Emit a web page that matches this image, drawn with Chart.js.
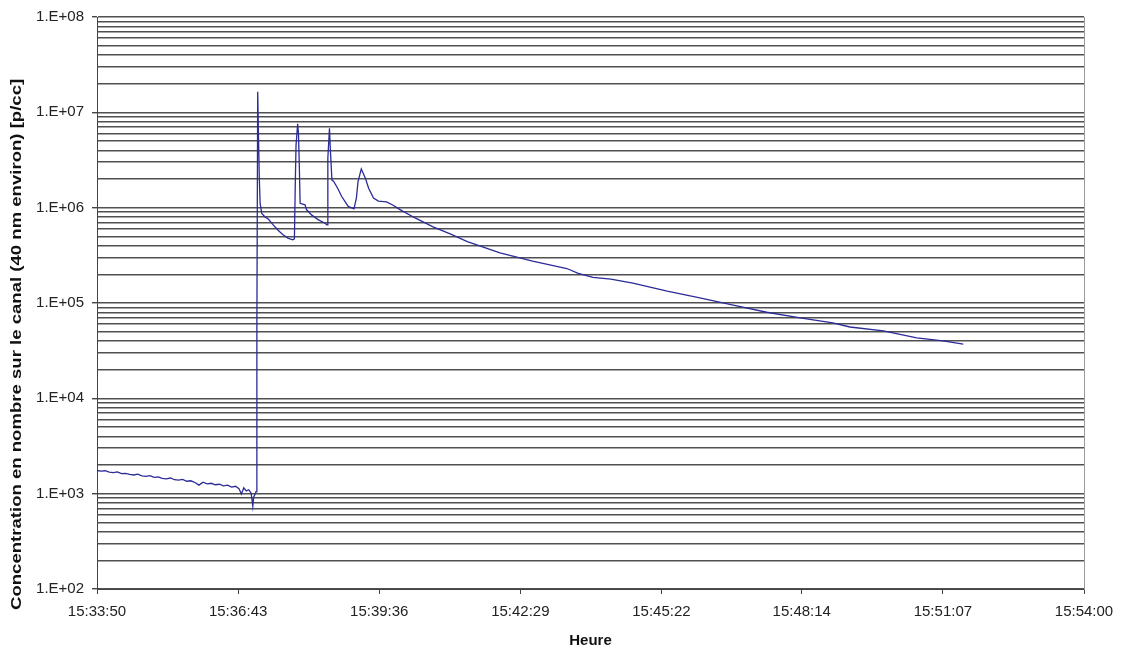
<!DOCTYPE html>
<html>
<head>
<meta charset="utf-8">
<script src="https://cdn.jsdelivr.net/npm/chart.js@4.4.1/dist/chart.umd.min.js"></script>
<style>
  html, body { margin: 0; padding: 0; background: #fff; }
  #wrap { width: 1123px; height: 648px; }
</style>
</head>
<body>
<div id="wrap"><canvas id="canvas" width="1123" height="648"></canvas></div>
<script>
// x axis tick labels (Excel date axis, 7 divisions)
const xTickLabels = ['15:33:50', '15:36:43', '15:39:36', '15:42:29', '15:45:22', '15:48:14', '15:51:07', '15:54:00'];

// measurement times and concentrations [p/cc]
const sampleTimes = [
  '15:33:50', '15:33:55', '15:34:00', '15:34:05', '15:34:10', '15:34:15', '15:34:20', '15:34:25',
  '15:34:30', '15:34:35', '15:34:40', '15:34:45', '15:34:50', '15:34:55', '15:35:00', '15:35:05',
  '15:35:10', '15:35:15', '15:35:20', '15:35:25', '15:35:30', '15:35:35', '15:35:40', '15:35:45',
  '15:35:50', '15:35:55', '15:36:00', '15:36:05', '15:36:10', '15:36:15', '15:36:20', '15:36:25',
  '15:36:30', '15:36:35', '15:36:40', '15:36:44', '15:36:47', '15:36:50', '15:36:53', '15:36:56',
  '15:36:59', '15:37:01', '15:37:02', '15:37:04', '15:37:05', '15:37:06', '15:37:07', '15:37:08',
  '15:37:09', '15:37:10', '15:37:12', '15:37:16', '15:37:20', '15:37:26', '15:37:32', '15:37:38',
  '15:37:44', '15:37:50', '15:37:52', '15:37:53', '15:37:54', '15:37:56', '15:37:57', '15:37:58',
  '15:37:59', '15:38:05', '15:38:07', '15:38:13', '15:38:21', '15:38:29', '15:38:32', '15:38:33',
  '15:38:35', '15:38:36', '15:38:38', '15:38:40', '15:38:45', '15:38:50', '15:38:58', '15:39:05',
  '15:39:08', '15:39:10', '15:39:14', '15:39:19', '15:39:23', '15:39:29', '15:39:35', '15:39:45',
  '15:39:53', '15:40:01', '15:40:20', '15:40:42', '15:41:03', '15:41:24', '15:42:04', '15:42:44',
  '15:43:26', '15:43:40', '15:43:58', '15:44:20', '15:44:47', '15:45:29', '15:46:09', '15:46:50',
  '15:47:31', '15:48:12', '15:48:52', '15:49:13', '15:49:54', '15:50:35', '15:51:07', '15:51:32'
];
const concentration = [
  1750, 1720, 1740, 1680, 1665, 1690, 1620, 1635,
  1590, 1570, 1600, 1540, 1520, 1545, 1480, 1500,
  1450, 1430, 1460, 1400, 1385, 1410, 1350, 1365,
  1310, 1230, 1320, 1270, 1285, 1240, 1255, 1210,
  1230, 1170, 1195, 1130, 990, 1150, 1070, 1100,
  1010, 740, 920, 1000, 1050, 55000, 16400000, 5500000,
  2000000, 1100000, 870000, 800000, 760000, 660000, 580000, 520000,
  480000, 460000, 470000, 1600000, 4500000, 7600000, 6000000, 2800000,
  1110000, 1070000, 950000, 840000, 750000, 690000, 660000, 3300000,
  6800000, 4200000, 1950000, 1900000, 1600000, 1310000, 1030000, 970000,
  1260000, 1880000, 2550000, 2040000, 1600000, 1260000, 1170000, 1150000,
  1060000, 960000, 780000, 630000, 530000, 440000, 335000, 275000,
  230000, 205000, 186000, 178000, 162000, 133000, 113000, 95000,
  80000, 70000, 62000, 56000, 51000, 43000, 40000, 37000
];

const yTitle = 'Concentration en nombre sur le canal (40 nm environ) [p/cc]';
const xTitle = 'Heure';

function toSec(s) {
  const p = s.split(':').map(Number);
  return p[0] * 3600 + p[1] * 60 + p[2];
}

const points = sampleTimes.map((t, i) => ({ x: toSec(t), y: concentration[i] }));
const xTickValues = xTickLabels.map(toSec);

const yTickValues = [];
for (let e = 2; e < 8; e++) {
  for (let m = 1; m <= 9; m++) yTickValues.push(m * Math.pow(10, e));
}
yTickValues.push(1e8);

function isDecade(v) {
  const l = Math.log10(v);
  return Math.abs(l - Math.round(l)) < 1e-9;
}

const FONT = '"Liberation Sans", Arial, sans-serif';

// y title drawn by hand: it is stretched and starts below the plot like in Excel
const yTitlePlugin = {
  id: 'yTitle',
  afterDraw(chart) {
    const ctx = chart.ctx;
    ctx.save();
    ctx.font = 'bold 14px ' + FONT;
    const w = ctx.measureText('Concentration en nombre sur le canal (40 nm environ) [p/cc').width;
    ctx.translate(17, 610);
    ctx.rotate(-Math.PI / 2);
    ctx.scale(525 / w, 1);
    ctx.fillStyle = '#111';
    ctx.textBaseline = 'middle';
    ctx.textAlign = 'left';
    ctx.fillText(yTitle, 0, 0);
    ctx.restore();
  }
};

const config = {
  type: 'line',
  data: {
    datasets: [{
      data: points,
      borderColor: '#2b2b99',
      borderWidth: 1.3,
      pointRadius: 0,
      tension: 0,
      fill: false
    }]
  },
  options: {
    responsive: false,
    animation: false,
    layout: { padding: { left: 0, right: 0, top: 15, bottom: 0 } },
    plugins: { legend: { display: false }, tooltip: { enabled: false } },
    scales: {
      x: {
        type: 'linear',
        min: xTickValues[0],
        max: xTickValues[xTickValues.length - 1],
        afterBuildTicks: (scale) => { scale.ticks = xTickValues.map(v => ({ value: v })); },
        afterFit: (scale) => { scale.height = 59; },
        ticks: {
          autoSkip: false,
          maxRotation: 0,
          padding: 9,
          color: '#222',
          font: { family: FONT, size: 15 },
          callback: (v, i) => xTickLabels[i]
        },
        grid: { drawOnChartArea: false, tickLength: 5, color: '#444' },
        border: { color: '#444', width: 1 },
        title: {
          display: true,
          text: xTitle,
          color: '#111',
          font: { family: FONT, size: 15, weight: 'bold', lineHeight: 1 },
          padding: 0
        }
      },
      y: {
        type: 'logarithmic',
        position: 'left',
        min: 100,
        max: 1e8,
        afterBuildTicks: (scale) => { scale.ticks = yTickValues.map(v => ({ value: v, major: isDecade(v) })); },
        afterFit: (scale) => { scale.width = 97; },
        ticks: {
          autoSkip: false,
          padding: 8,
          color: '#222',
          font: { family: FONT, size: 15 },
          callback: (v) => isDecade(v) ? '1.E+' + String(Math.round(Math.log10(v))).padStart(2, '0') : ''
        },
        grid: {
          color: '#505050',
          lineWidth: 1.4,
          tickLength: 5,
          tickColor: (ctx) => (ctx.tick && isDecade(ctx.tick.value)) ? '#444' : 'rgba(0,0,0,0)'
        },
        border: { color: '#444', width: 1 }
      },
      yRight: {
        type: 'linear',
        position: 'right',
        min: 0,
        max: 1,
        afterFit: (scale) => { scale.width = 39; },
        ticks: { display: false },
        grid: { display: false, drawTicks: false },
        border: { display: true, color: '#9a9a9a', width: 1 }
      }
    }
  },
  plugins: [yTitlePlugin]
};

const chart = new Chart(document.getElementById('canvas').getContext('2d'), config);
</script>
</body>
</html>
